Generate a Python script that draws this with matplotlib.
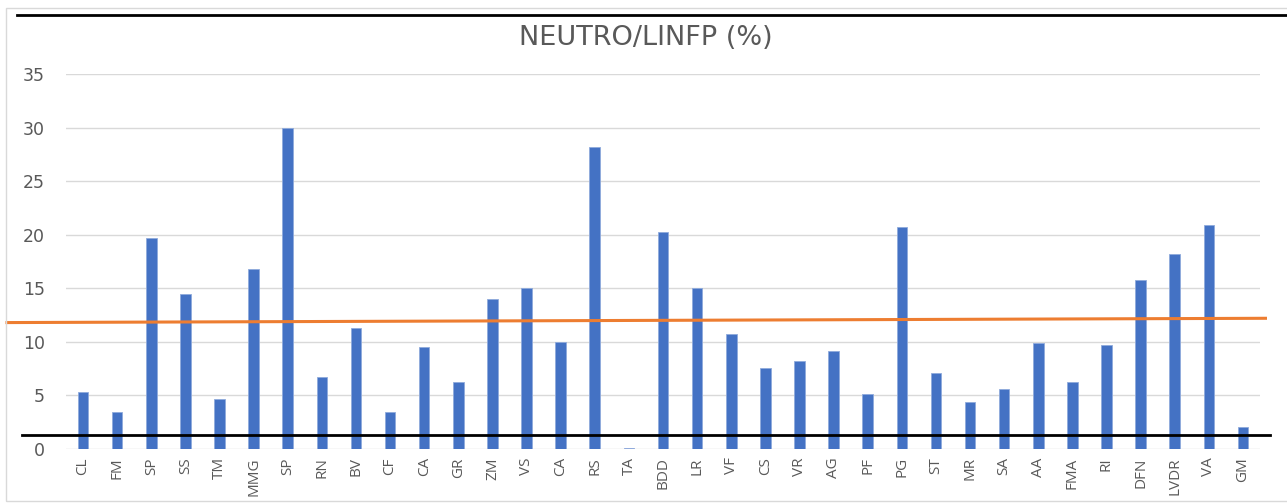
import numpy as np
import matplotlib.pyplot as plt
from matplotlib.patches import Rectangle

# Sites and NEUTRO/LINFP ratio (%)
sites = ["CL", "FM", "SP", "SS", "TM", "MMG", "SP", "RN", "BV", "CF", "CA",
         "GR", "ZM", "VS", "CA", "RS", "TA", "BDD", "LR", "VF", "CS", "VR",
         "AG", "PF", "PG", "ST", "MR", "SA", "AA", "FMA", "RI", "DFN", "LVDR",
         "VA", "GM"]
ratio = [5.3, 3.5, 19.7, 14.5, 4.7, 16.8, 30.0, 6.7, 11.3, 3.5, 9.5,
         6.25, 14.0, 15.0, 10.0, 28.2, 0.1, 20.25, 15.0, 10.7, 7.55, 8.2,
         9.15, 5.1, 20.7, 7.1, 4.4, 5.6, 9.9, 6.25, 9.7, 15.8, 18.2,
         20.9, 2.1]
yticks = [0, 5, 10, 15, 20, 25, 30, 35]

# reference lines drawn across the chart (x in category units, y in %)
orange_x, orange_y = [-2.23, 34.66], [11.8, 12.2]
low_x, low_y = [-1.8, 34.8], [1.3, 1.3]
top_x, top_y = [-1.95, 35.3], [40.5, 40.5]

fig = plt.figure(figsize=(12.87, 5.04), dpi=100)
ax = fig.add_axes([66 / 1287, 55 / 504, (1260 - 66) / 1287, (449 - 74) / 504])

x = np.arange(len(sites))
ax.bar(x, ratio, width=0.31, color="#4472C4", edgecolor="#8FAADC",
       linewidth=0.6, zorder=2)

ax.set_xlim(-0.5, len(sites) - 0.5)
ax.set_ylim(0, 35)
ax.set_yticks(yticks)
ax.grid(axis="y", color="#D9D9D9", linewidth=1, zorder=0)
ax.set_xticks(x)
ax.set_xticklabels(sites, rotation=90, fontsize=11, color="#595959",
                   family="Open Sans")
ax.tick_params(axis="y", labelsize=12.5, labelcolor="#595959", length=0, pad=15)
ax.tick_params(axis="x", length=0, pad=6)
for s in ax.spines.values():
    s.set_visible(False)

ax.plot(orange_x, orange_y, color="#ED7D31", linewidth=2.2, clip_on=False, zorder=4)
ax.plot(low_x, low_y, color="black", linewidth=2, clip_on=False, zorder=5)
ax.plot(top_x, top_y, color="black", linewidth=2, clip_on=False, zorder=5)

fig.text(646 / 1287, 1 - 38 / 504, "NEUTRO/LINFP (%)", ha="center", va="center",
         fontsize=19.5, color="#595959")

fig.patches.append(Rectangle((6 / 1287, 0.005), 1.2, 1 - 8 / 504 - 0.005,
                             transform=fig.transFigure, fill=False,
                             edgecolor="#D9D9D9", linewidth=1))

fig.savefig("out.png")
